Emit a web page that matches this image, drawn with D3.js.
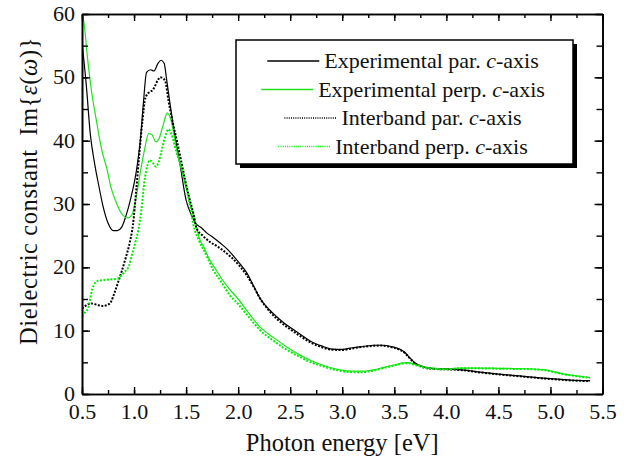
<!DOCTYPE html>
<meta charset="utf-8">
<style>
body { margin: 0; background: #fff; }
text { font-family: "Liberation Serif", "DejaVu Serif", serif; fill: #111; }
.axis path, .axis line { stroke: #000; }
.axis text { font-size: 22px; font-family: "Liberation Serif", serif; }
</style>
<svg id="plot" width="629" height="462"></svg>
<script src="https://d3js.org/d3.v7.min.js"></script>
<script>

// photon energy (eV) and Im{eps} for each curve
var expParE = [0.50,0.54,0.58,0.62,0.66,0.70,0.75,0.80,0.84,0.88,0.92,0.97,1.02,1.06,1.09,1.12,1.16,1.19,1.23,1.26,1.29,1.31,1.34,1.38,1.44,1.50,1.55,1.59,1.65,1.70,1.77,1.83,1.90,1.96,2.02,2.08,2.15,2.21,2.30,2.37,2.45,2.52,2.60,2.70,2.80,2.90,3.00,3.10,3.20,3.30,3.38,3.47,3.55,3.60,3.65,3.70,3.78,3.88,4.00,4.13,4.30,4.50,4.70,4.90,5.10,5.25,5.38];
var expParV = [55.5,49,41,36.5,33,29.8,27,25.8,25.8,26.3,28,31,35,40,46,50.8,51.2,51,52.2,52.7,52.2,50,46.5,42,36.4,30.6,28.3,27,26.2,25.4,24.6,23.8,22.8,21.7,20.5,19.2,17,15.1,13.3,12.2,11.1,10.3,9.4,8.3,7.6,7.1,7.05,7.3,7.5,7.7,7.7,7.5,7.1,6.6,5.7,4.9,4.3,4.0,3.95,3.85,3.5,3.15,2.85,2.55,2.3,2.15,2.1];

var expPerpE = [0.50,0.52,0.55,0.59,0.64,0.69,0.74,0.78,0.83,0.88,0.94,0.98,1.02,1.06,1.10,1.14,1.17,1.21,1.24,1.28,1.32,1.35,1.41,1.50,1.55,1.59,1.63,1.67,1.72,1.78,1.85,1.92,2.00,2.10,2.21,2.34,2.47,2.60,2.70,2.79,2.90,2.98,3.10,3.20,3.30,3.40,3.50,3.58,3.63,3.70,3.78,3.90,4.00,4.13,4.30,4.50,4.70,4.84,4.95,5.05,5.15,5.28,5.38];
var expPerpV = [60,58.5,53.5,48,43,38.5,35.5,32.5,30.2,28.5,27.8,28.3,31,35,38.5,41.1,41,39.8,40.3,42.5,44.4,43.5,38.5,32.7,29.5,27,24.5,23.2,21.4,19.8,18,16.5,15,12.8,10.6,8.9,7.4,6.1,5.3,4.7,4.1,3.8,3.6,3.6,3.8,4.2,4.6,4.9,4.95,4.7,4.3,4.05,3.95,4.1,4.1,4.05,4.0,3.95,3.8,3.45,3.1,2.8,2.6];

var intParE = [0.50,0.54,0.59,0.64,0.70,0.75,0.78,0.81,0.85,0.88,0.92,0.96,0.99,1.02,1.05,1.08,1.11,1.15,1.18,1.20,1.23,1.25,1.28,1.30,1.33,1.37,1.41,1.45,1.49,1.53,1.57,1.60,1.66,1.73,1.80,1.86,1.94,2.02,2.08,2.15,2.21,2.30,2.37,2.45,2.52,2.60,2.70,2.80,2.90,3.00,3.10,3.20,3.30,3.38,3.47,3.55,3.60,3.65,3.70,3.78,3.88,4.00,4.13,4.30,4.50,4.70,4.90,5.10,5.25,5.38];
var intParV = [13.5,14.0,14.3,14.1,13.9,14.1,14.6,15.9,17.8,19.3,21.5,24,26.8,32,37.8,43,46.8,47.7,48,48.6,49.6,50,49.8,49.4,46.4,43,40.1,37,33.8,31,28.5,26.2,25,24,23.3,22.6,21.5,20.1,18.8,16.9,15.1,13.1,11.9,10.8,10.0,9.1,8.1,7.4,7.0,6.95,7.2,7.45,7.6,7.65,7.4,7.0,6.5,5.6,4.8,4.2,3.95,3.9,3.8,3.45,3.1,2.8,2.5,2.25,2.1,2.05];

var intPerpE = [0.50,0.53,0.56,0.58,0.60,0.62,0.66,0.72,0.78,0.84,0.87,0.91,0.95,0.98,1.01,1.04,1.07,1.10,1.13,1.15,1.18,1.21,1.24,1.27,1.31,1.33,1.36,1.41,1.46,1.50,1.54,1.57,1.62,1.70,1.76,1.83,1.92,2.00,2.10,2.21,2.34,2.47,2.60,2.70,2.79,2.90,2.98,3.10,3.20,3.30,3.40,3.50,3.58,3.63,3.70,3.78,3.90,4.00,4.13,4.30,4.50,4.70,4.84,4.95,5.05,5.15,5.28,5.38];
var intPerpV = [12.3,12.9,13.6,15.2,16.6,17.4,17.9,18.0,18.1,18.2,18.6,19.3,20.2,22,23.8,25.8,29,33.6,36.2,36.9,36.5,35.9,36.8,38.8,41.2,41.8,41,38,35.5,32.7,29.5,26.7,24.4,21.7,19.6,17.9,15.6,14.2,12.2,10.1,8.4,6.95,5.8,5.0,4.5,3.95,3.65,3.45,3.45,3.7,4.1,4.5,4.8,4.85,4.6,4.2,3.95,3.9,4.05,4.05,4.0,3.95,3.9,3.75,3.4,3.05,2.75,2.55];

var xMajor = [0.5,1.0,1.5,2.0,2.5,3.0,3.5,4.0,4.5,5.0,5.5];
var yMajor = [0,10,20,30,40,50,60];

var svg = d3.select("svg"),
    margin = {top: 14, left: 82},
    width = 520.5,
    height = 380;

var x = d3.scaleLinear().domain([0.5, 5.5]).range([0, width]);
var y = d3.scaleLinear().domain([0, 60]).range([height, 0]);

var g = svg.append("g")
    .attr("transform", "translate(" + margin.left + "," + margin.top + ")");

g.append("clipPath").attr("id", "clip")
  .append("rect").attr("width", width).attr("height", height);

function zip(es, vs) { return es.map(function(e, i) { return [e, vs[i]]; }); }

var line = d3.line()
    .x(function(d) { return x(d[0]); })
    .y(function(d) { return y(d[1]); })
    .curve(d3.curveMonotoneX);

var series = [
  {name: "Experimental par. ", data: zip(expParE, expParV), color: "#000", dash: null, w: 1.2},
  {name: "Experimental perp. ", data: zip(expPerpE, expPerpV), color: "#22e022", dash: null, w: 1.2},
  {name: "Interband par. ", data: zip(intParE, intParV), color: "#000", dash: "2,1.5", w: 2},
  {name: "Interband perp. ", data: zip(intPerpE, intPerpV), color: "#00ee00", dash: "2,1.5", w: 2}
];

var curves = g.append("g").attr("clip-path", "url(#clip)");
series.forEach(function(s) {
  curves.append("path")
      .datum(s.data)
      .attr("fill", "none")
      .attr("stroke", s.color)
      .attr("stroke-width", s.w)
      .attr("stroke-dasharray", s.dash)
      .attr("d", line);
});

// axes, ticks pointing inward on all four sides
var minorX = d3.range(0.5, 5.51, 0.25), minorY = d3.range(0, 60.1, 5);

function addAxis(axis, tx, ty, vals, size, labels) {
  var a = g.append("g").attr("class", "axis")
      .attr("transform", "translate(" + tx + "," + ty + ")")
      .call(axis.tickValues(vals).tickSizeInner(size).tickSizeOuter(0)
        .tickPadding(labels ? 8 : 0)
        .tickFormat(labels ? labels : ""));
  a.select(".domain").attr("stroke-width", 1.6);
  a.selectAll(".tick line").attr("stroke-width", 1.4);
  return a;
}

addAxis(d3.axisBottom(x), 0, height, minorX, -4, null);
addAxis(d3.axisBottom(x), 0, height, xMajor, -7, d3.format(".1f"))
  .selectAll("text").attr("dy", 0).attr("y", 25);
addAxis(d3.axisTop(x), 0, 0, minorX, -4, null);
addAxis(d3.axisTop(x), 0, 0, xMajor, -7, null);
addAxis(d3.axisLeft(y), 0, 0, minorY, -6, null);
addAxis(d3.axisLeft(y), 0, 0, yMajor, -8, d3.format("d"))
  .selectAll("text").attr("x", -7).attr("dy", "0.3em");
addAxis(d3.axisRight(y), width, 0, minorY, -6, null);
addAxis(d3.axisRight(y), width, 0, yMajor, -8, null);

// axis titles
svg.append("text")
    .attr("x", margin.left + width / 2)
    .attr("y", 451)
    .attr("text-anchor", "middle")
    .style("font-size", "24.5px")
    .text("Photon energy [eV]");

var yt = svg.append("text")
    .attr("transform", "translate(37,191) rotate(-90)")
    .attr("text-anchor", "middle")
    .style("font-size", "24.5px")
    .style("letter-spacing", "0.6px");
yt.append("tspan").text("Dielectric constant\u00a0\u00a0Im{");
yt.append("tspan").style("font-style", "italic").text("\u03b5");
yt.append("tspan").text("(");
yt.append("tspan").style("font-style", "italic").text("\u03c9");
yt.append("tspan").text(")}");

// legend with drop shadow
var lg = svg.append("g");
lg.append("rect").attr("x", 240).attr("y", 44).attr("width", 337).attr("height", 124).attr("fill", "#000");
lg.append("rect").attr("x", 236).attr("y", 40).attr("width", 337).attr("height", 124)
    .attr("fill", "#fff").attr("stroke", "#000").attr("stroke-width", 1.5);

var rowY = [61, 89.5, 118, 146.5];
series.forEach(function(s, i) {
  var row = lg.append("g");
  var t = row.append("text")
      .attr("x", 0).attr("y", rowY[i] + 7)
      .style("font-size", "22px");
  t.append("tspan").text(s.name);
  t.append("tspan").style("font-style", "italic").text("c");
  t.append("tspan").text("-axis");
  var tw = t.node().getComputedTextLength();
  var total = 52 + 5 + tw, x0 = 403 - total / 2;
  row.append("line")
      .attr("x1", x0).attr("x2", x0 + 52)
      .attr("y1", rowY[i]).attr("y2", rowY[i])
      .attr("stroke", s.color)
      .attr("stroke-width", 1.3)
      .attr("stroke-dasharray", s.dash ? "1,1.2" : null);
  t.attr("x", x0 + 57);
});

</script>
